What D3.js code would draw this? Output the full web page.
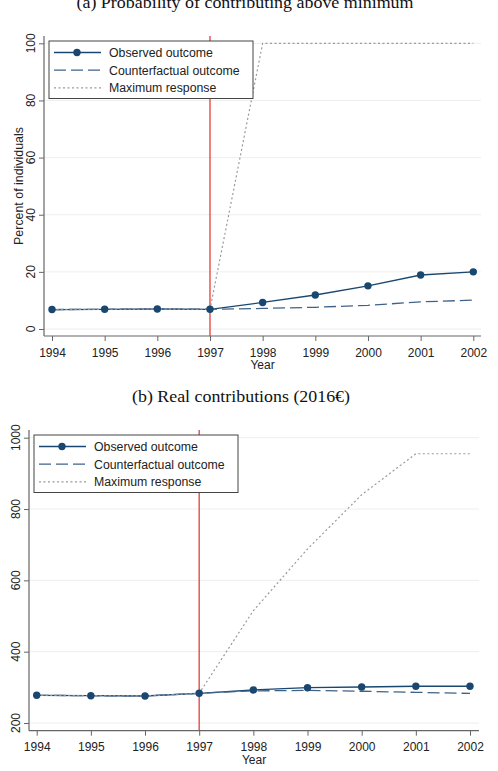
<!DOCTYPE html>
<html><head><meta charset="utf-8">
<script src="https://cdn.jsdelivr.net/npm/d3@7"></script>
<style>
body{margin:0;background:#fff;}
svg{display:block;}
text{font-family:"Liberation Sans",Arial,sans-serif;fill:#222;}
.ttl{font-family:"Liberation Serif","Times New Roman",serif;fill:#111;}
</style></head>
<body>
<svg id="c" width="498" height="771"></svg>
<script>
const years = [1994,1995,1996,1997,1998,1999,2000,2001,2002];
const yearLabels = ["1994","1995","1996","1997","1998","1999","2000","2001","2002"];
const seriesNames = ["Observed outcome","Counterfactual outcome","Maximum response"];
const reformYear = 1997;

// Panel (a): percent of individuals contributing above minimum
const aTitle = "(a) Probability of contributing above minimum";
const aObserved = [6.8,6.9,7.0,6.9,9.3,11.9,15.1,18.9,20.0];
const aCounterfactual = [6.8,6.9,7.0,6.9,7.2,7.6,8.3,9.5,10.1];
const aMaximum = [6.8,6.9,7.0,6.9,100,100,100,100,100];
const aYTicks = [0,20,40,60,80,100];

// Panel (b): real contributions (2016€)
const bTitle = "(b) Real contributions (2016€)";
const bObserved = [277.7,276.6,275.7,283.3,292.6,299,301,303,303];
const bCounterfactual = [277.7,276.6,275.7,283.3,290,291.5,289,286,283];
const bMaximum = [277.7,276.6,275.7,283.3,515,688,840,955,955];
const bYTicks = [200,400,600,800,1000];

const navy = "#1a476f";
const svg = d3.select("#c");

function panel(cfg){
  const g = svg.append("g");
  const x = d3.scaleLinear().domain([1994,2002]).range([cfg.x0, cfg.x1]);
  const y = d3.scaleLinear().domain(cfg.ydom).range(cfg.yr);
  // gridlines
  g.selectAll(".grid").data(cfg.yticks).enter().append("line")
    .attr("x1", cfg.left).attr("x2", cfg.right)
    .attr("y1", d=>y(d)).attr("y2", d=>y(d))
    .attr("stroke","#eeeeee").attr("stroke-width",1);
  // reform line
  g.append("line").attr("x1",x(reformYear)).attr("x2",x(reformYear))
    .attr("y1",cfg.top).attr("y2",cfg.bottom)
    .attr("stroke","#e64b47").attr("stroke-width",1.4);
  // axes
  const ya = d3.axisLeft(y).tickValues(cfg.yticks).tickSize(5).tickSizeOuter(0).tickFormat(d3.format("d"));
  const yg = g.append("g").attr("transform",`translate(${cfg.left},0)`).call(ya);
  yg.select(".domain").remove();
  yg.selectAll(".tick line").attr("stroke","#666");
  yg.selectAll(".tick text").remove();
  g.append("line").attr("x1",cfg.left).attr("x2",cfg.left).attr("y1",cfg.top).attr("y2",cfg.bottom).attr("stroke","#666").attr("stroke-width",1.2);
  g.selectAll(".ylab").data(cfg.yticks).enter().append("text")
    .attr("transform", d=>`translate(${cfg.ylabX},${y(d)}) rotate(-90)`)
    .attr("text-anchor","middle").attr("font-size","12px").text(d=>d);
  const xa = d3.axisBottom(x).tickValues(years).tickSize(5).tickSizeOuter(0).tickFormat((d,i)=>yearLabels[i]);
  const xg = g.append("g").attr("transform",`translate(0,${cfg.bottom})`).call(xa);
  xg.select(".domain").remove();
  xg.selectAll(".tick line").attr("stroke","#666");
  xg.selectAll(".tick text").attr("font-size","12px").attr("font-family","Liberation Sans, Arial, sans-serif")
    .attr("fill","#222").attr("y", cfg.xlabY - cfg.bottom).attr("dy",0);
  g.append("line").attr("x1",cfg.left).attr("x2",cfg.right).attr("y1",cfg.bottom).attr("y2",cfg.bottom).attr("stroke","#666").attr("stroke-width",1.2);
  g.append("text").attr("x",(cfg.left+cfg.right)/2).attr("y",cfg.yearY).attr("text-anchor","middle").attr("font-size","12px").text("Year");
  if(cfg.ytitle){
    g.append("text").attr("transform",`translate(${cfg.ytitleX},${(cfg.top+cfg.bottom)/2}) rotate(-90)`)
      .attr("text-anchor","middle").attr("font-size","12.4px").text(cfg.ytitle);
  }
  // series
  const line = d3.line().x((d,i)=>x(years[i])).y(d=>y(d));
  g.append("path").attr("d",line(cfg.obs)).attr("fill","none").attr("stroke",navy).attr("stroke-width",1.3);
  g.append("path").attr("d",line(cfg.cf)).attr("fill","none").attr("stroke","#3f6388").attr("stroke-width",1.3).attr("stroke-dasharray","12,5");
  g.append("path").attr("d",line(cfg.max)).attr("fill","none").attr("stroke","#9a9a9a").attr("stroke-width",1.2).attr("stroke-dasharray","2,2.5");
  g.selectAll(".pt").data(cfg.obs).enter().append("circle")
    .attr("cx",(d,i)=>x(years[i])).attr("cy",d=>y(d)).attr("r",3.7).attr("fill",navy);
  // title
  svg.append("text").attr("class","ttl").attr("x",cfg.titleX).attr("y",cfg.titleY).attr("text-anchor","middle")
    .attr("font-size","17px").attr("textLength",cfg.titleW).attr("lengthAdjust","spacingAndGlyphs").text(cfg.title);
  // legend
  const lx = cfg.left+5, ly = cfg.top+5;
  const lg = g.append("g").attr("transform",`translate(${lx},${ly})`);
  lg.append("rect").attr("x",0).attr("y",0).attr("width",204).attr("height",57.5)
    .attr("fill","#fff").attr("stroke","#444").attr("stroke-width",1);
  const styles = [
    {stroke:navy, dash:null, w:1.3, marker:true},
    {stroke:"#3f6388", dash:"12,5", w:1.3, marker:false},
    {stroke:"#9a9a9a", dash:"2,2.5", w:1.2, marker:false}];
  seriesNames.forEach((nm,i)=>{
    const ry = 11.5 + i*17.7;
    const s = styles[i];
    const l = lg.append("line").attr("x1",5).attr("x2",52).attr("y1",ry).attr("y2",ry)
      .attr("stroke",s.stroke).attr("stroke-width",s.w);
    if(s.dash) l.attr("stroke-dasharray",s.dash);
    if(s.marker) lg.append("circle").attr("cx",28).attr("cy",ry).attr("r",3.7).attr("fill",navy);
    lg.append("text").attr("x",60).attr("y",ry+4.4).attr("font-size","12.3px").text(nm);
  });
}

panel({title:aTitle, titleX:245, titleY:7.5, titleW:337,
  left:44, right:481, top:36, bottom:336, x0:52, x1:473.3,
  ydom:[0,100], yr:[329,43.3], yticks:aYTicks, ylabX:34.5, xlabY:356.5, yearY:369,
  ytitle:"Percent of individuals", ytitleX:22.5,
  obs:aObserved, cf:aCounterfactual, max:aMaximum});

panel({title:bTitle, titleX:241, titleY:401.5, titleW:218,
  left:29, right:479, top:430, bottom:730.7, x0:36.7, x1:470,
  ydom:[200,1000], yr:[723,437.7], yticks:bYTicks, ylabX:20, xlabY:751, yearY:763.5,
  ytitle:null,
  obs:bObserved, cf:bCounterfactual, max:bMaximum});
</script>
</body></html>
